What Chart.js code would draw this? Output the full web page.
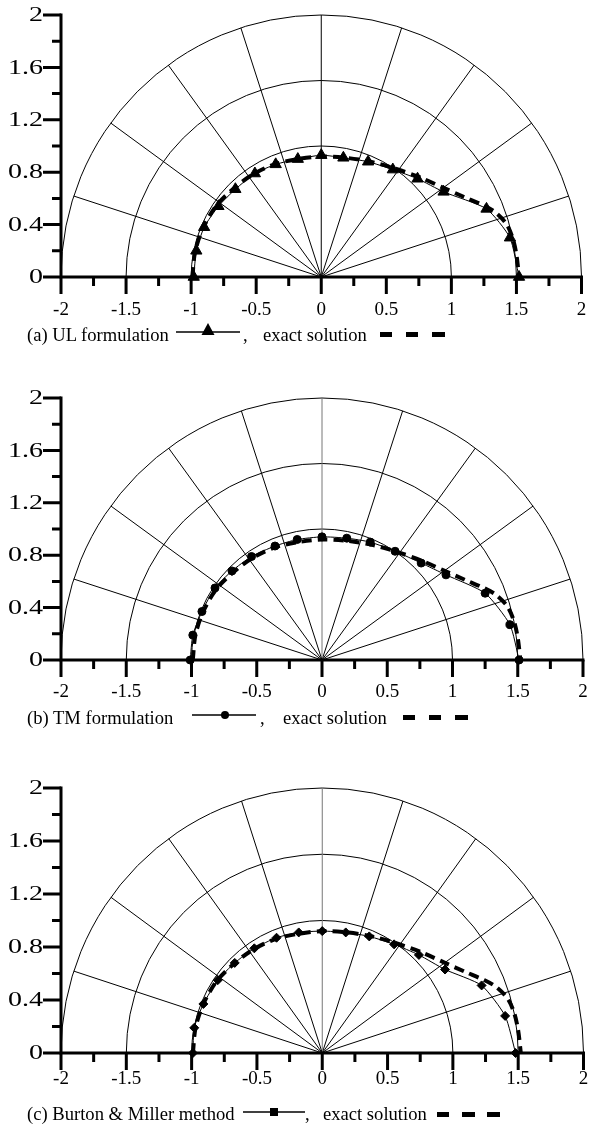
<!DOCTYPE html>
<html><head><meta charset="utf-8">
<script src="https://cdn.jsdelivr.net/npm/chart.js@4.4.0/dist/chart.umd.min.js"></script>
<style>
html,body{margin:0;padding:0;background:#fff;}
#wrap{position:relative;width:589px;height:1135px;overflow:hidden;font-family:"Liberation Serif","Times New Roman",serif;color:#000;}
.panel{position:absolute;left:0;width:589px;}
.cap{position:absolute;font-size:18.6px;line-height:20px;white-space:nowrap;}
svg.sym{position:absolute;overflow:visible;}
</style></head><body><div id="wrap">
<div class="panel" style="top:0;height:370px"><canvas id="c1" width="589" height="370"></canvas></div>
<div class="panel" style="top:370px;height:370px"><canvas id="c2" width="589" height="370"></canvas></div>
<div class="panel" style="top:740px;height:395px"><canvas id="c3" width="589" height="395"></canvas></div>

<span class="cap" style="left:27px;top:325px">(a) UL formulation</span>
<svg class="sym" style="left:176px;top:322px" width="64" height="20"><line x1="0" y1="10" x2="64" y2="10" stroke="#000" stroke-width="1.6"/><polygon points="32,1 25.5,13 38.5,13" fill="#000"/></svg>
<span class="cap" style="left:243px;top:325px">,</span>
<span class="cap" style="left:263px;top:325px">exact solution</span>
<svg class="sym" style="left:380px;top:322px" width="70" height="20"><rect x="0" y="10" width="12" height="5" fill="#000"/><rect x="26" y="10" width="12" height="5" fill="#000"/><rect x="52" y="10" width="13" height="5" fill="#000"/></svg>

<span class="cap" style="left:27px;top:708px">(b) TM formulation</span>
<svg class="sym" style="left:192px;top:705px" width="64" height="20"><line x1="0" y1="10" x2="64" y2="10" stroke="#000" stroke-width="1.6"/><circle cx="33" cy="10" r="4" fill="#000"/></svg>
<span class="cap" style="left:260px;top:708px">,</span>
<span class="cap" style="left:283px;top:708px">exact solution</span>
<svg class="sym" style="left:403px;top:705px" width="70" height="20"><rect x="0" y="10" width="12" height="5" fill="#000"/><rect x="26" y="10" width="12" height="5" fill="#000"/><rect x="52" y="10" width="13" height="5" fill="#000"/></svg>

<span class="cap" style="left:27px;top:1104px">(c) Burton &amp; Miller method</span>
<svg class="sym" style="left:243px;top:1102px" width="62" height="20"><line x1="0" y1="10" x2="62" y2="10" stroke="#000" stroke-width="1.6"/><rect x="27" y="6" width="8" height="8" fill="#000"/></svg>
<span class="cap" style="left:305px;top:1104px">,</span>
<span class="cap" style="left:323px;top:1104px">exact solution</span>
<svg class="sym" style="left:437px;top:1102px" width="70" height="20"><rect x="0" y="10" width="12" height="5" fill="#000"/><rect x="25" y="10" width="13" height="5" fill="#000"/><rect x="50" y="10" width="13" height="5" fill="#000"/></svg>
</div>
<script>
// ---- tick / grid definitions ----
const xTickValues = [-2, -1.5, -1, -0.5, 0, 0.5, 1, 1.5, 2];
const xTickLabels = ['-2', '-1.5', '-1', '-0.5', '0', '0.5', '1', '1.5', '2'];
const xMinorValues = [-1.75, -1.25, -0.75, -0.25, 0.25, 0.75, 1.25, 1.75];
const yTickValues = [0, 0.4, 0.8, 1.2, 1.6, 2];
const yTickLabels = ['0', '0.4', '0.8', '1.2', '1.6', '2'];
const yMinorValues = [0.2, 0.6, 1.0, 1.4, 1.8];
const ringRadii = [1, 1.5, 2];
const spokeAngles = [18, 36, 54, 72, 90, 108, 126, 144, 162];

// ---- data series ----
const ulX = [-0.98, -0.96, -0.90, -0.79, -0.66, -0.51, -0.35, -0.18, 0, 0.17, 0.36, 0.55, 0.74, 0.94, 1.27, 1.45, 1.52];
const ulY = [0, 0.20, 0.38, 0.54, 0.67, 0.79, 0.86, 0.90, 0.93, 0.91, 0.88, 0.82, 0.75, 0.65, 0.52, 0.30, 0];

const tmX = [-1.01, -0.99, -0.92, -0.82, -0.69, -0.54, -0.36, -0.19, 0, 0.19, 0.37, 0.56, 0.76, 0.95, 1.25, 1.44, 1.51];
const tmY = [0, 0.19, 0.37, 0.55, 0.68, 0.79, 0.87, 0.92, 0.94, 0.93, 0.90, 0.83, 0.74, 0.65, 0.51, 0.27, 0];

const bmX = [-0.99, -0.98, -0.91, -0.80, -0.67, -0.52, -0.35, -0.18, 0, 0.18, 0.36, 0.55, 0.74, 0.94, 1.22, 1.40, 1.48];
const bmY = [0, 0.19, 0.37, 0.55, 0.68, 0.79, 0.87, 0.91, 0.92, 0.91, 0.88, 0.82, 0.74, 0.63, 0.51, 0.28, 0];

const exactX = [-0.99, -0.97, -0.91, -0.81, -0.68, -0.53, -0.36, -0.18, 0, 0.19, 0.38, 0.56, 0.76, 0.94, 1.10, 1.24, 1.33, 1.42, 1.47, 1.50, 1.52];
const exactY = [0, 0.19, 0.37, 0.54, 0.67, 0.78, 0.86, 0.90, 0.92, 0.91, 0.88, 0.83, 0.76, 0.68, 0.61, 0.55, 0.50, 0.41, 0.30, 0.17, 0];

const XFONT = '19px "Liberation Serif", "Times New Roman", serif';
const YFONT = '20px "Liberation Serif", "Times New Roman", serif';

const polarFrame = {
  id: 'polarFrame',
  beforeDatasetsDraw(chart, args, opts) {
    const ctx = chart.ctx, xs = chart.scales.x, ys = chart.scales.y;
    const ox = xs.getPixelForValue(0), oy = ys.getPixelForValue(0);
    ctx.save();
    ctx.lineWidth = 1;
    ctx.strokeStyle = '#000';
    ringRadii.forEach(r => {
      const rx = xs.getPixelForValue(r) - ox, ry = oy - ys.getPixelForValue(r);
      ctx.beginPath();
      ctx.ellipse(ox, oy, rx, ry, 0, Math.PI, 2 * Math.PI);
      ctx.stroke();
    });
    spokeAngles.forEach(a => {
      const rad = a * Math.PI / 180;
      const R = ringRadii[ringRadii.length - 1];
      ctx.strokeStyle = a === 90 ? opts.midColor : '#000';
      ctx.beginPath();
      ctx.moveTo(ox, oy);
      ctx.lineTo(xs.getPixelForValue(R * Math.cos(rad)), ys.getPixelForValue(R * Math.sin(rad)));
      ctx.stroke();
    });
    // axes
    const ax = xs.getPixelForValue(-2);
    const x0 = xs.getPixelForValue(-2), x1 = xs.getPixelForValue(2);
    const yTop = ys.getPixelForValue(2);
    ctx.strokeStyle = '#000';
    ctx.lineWidth = 3;
    ctx.beginPath();
    ctx.moveTo(x0 - 1.5, oy); ctx.lineTo(x1 + 1.5, oy);
    ctx.moveTo(ax, oy + 1.5); ctx.lineTo(ax, yTop - 1.5);
    ctx.stroke();
    ctx.beginPath();
    xTickValues.forEach(v => { const p = xs.getPixelForValue(v); ctx.moveTo(p, oy); ctx.lineTo(p, oy + 17); });
    xMinorValues.forEach(v => { const p = xs.getPixelForValue(v); ctx.moveTo(p, oy); ctx.lineTo(p, oy + 9); });
    yTickValues.forEach(v => { const p = ys.getPixelForValue(v); ctx.moveTo(ax, p); ctx.lineTo(ax - 18, p); });
    yMinorValues.forEach(v => { const p = ys.getPixelForValue(v); ctx.moveTo(ax, p); ctx.lineTo(ax - 9, p); });
    ctx.stroke();
    // labels
    ctx.fillStyle = '#000';
    ctx.font = XFONT;
    ctx.textBaseline = 'middle';
    ctx.textAlign = 'center';
    xTickValues.forEach((v, i) => ctx.fillText(xTickLabels[i], xs.getPixelForValue(v), oy + opts.labelOffset));
    ctx.font = YFONT;
    ctx.textAlign = 'right';
    yTickValues.forEach((v, i) => {
      ctx.save();
      ctx.translate(ax - 18, ys.getPixelForValue(v) + 1);
      ctx.scale(1.4, 1);
      ctx.fillText(yTickLabels[i], 0, 0);
      ctx.restore();
    });
    ctx.restore();
  }
};

function pts(xa, ya) { return xa.map((x, i) => ({ x: x, y: ya[i] })); }

const panels = [
  { id: 'c1', pad: { left: 61, right: 6, top: 15, bottom: 93 }, xs: ulX, ys: ulY, name: 'UL formulation', style: 'triangle', radius: 6.5, midColor: '#000', labelOffset: 33 },
  { id: 'c2', pad: { left: 61, right: 6, top: 28, bottom: 80 }, xs: tmX, ys: tmY, name: 'TM formulation', style: 'circle', radius: 4, midColor: '#777', labelOffset: 32 },
  { id: 'c3', pad: { left: 61, right: 2, top: 48, bottom: 82 }, xs: bmX, ys: bmY, name: 'Burton & Miller method', style: 'rectRot', radius: 4.5, midColor: '#777', labelOffset: 26 }
];

panels.forEach(p => {
  new Chart(document.getElementById(p.id), {
    type: 'scatter',
    data: {
      datasets: [
        { label: p.name, data: pts(p.xs, p.ys), showLine: true, borderColor: '#000', borderWidth: 1,
          pointStyle: p.style, pointRadius: p.radius, pointBackgroundColor: '#000', pointBorderColor: '#000',
          pointBorderWidth: 1, tension: 0.2, clip: false },
        { label: 'exact solution', data: pts(exactX, exactY), showLine: true, borderColor: '#000', borderWidth: 4,
          borderDash: [10, 6], pointRadius: 0, tension: 0.3, clip: false }
      ]
    },
    options: {
      responsive: false, animation: false, devicePixelRatio: 1, events: [],
      layout: { padding: p.pad },
      scales: {
        x: { type: 'linear', min: -2, max: 2, display: false },
        y: { type: 'linear', min: 0, max: 2, display: false }
      },
      plugins: { legend: { display: false }, tooltip: { enabled: false },
        polarFrame: { midColor: p.midColor, labelOffset: p.labelOffset } }
    },
    plugins: [polarFrame]
  });
});
</script>
</body></html>
